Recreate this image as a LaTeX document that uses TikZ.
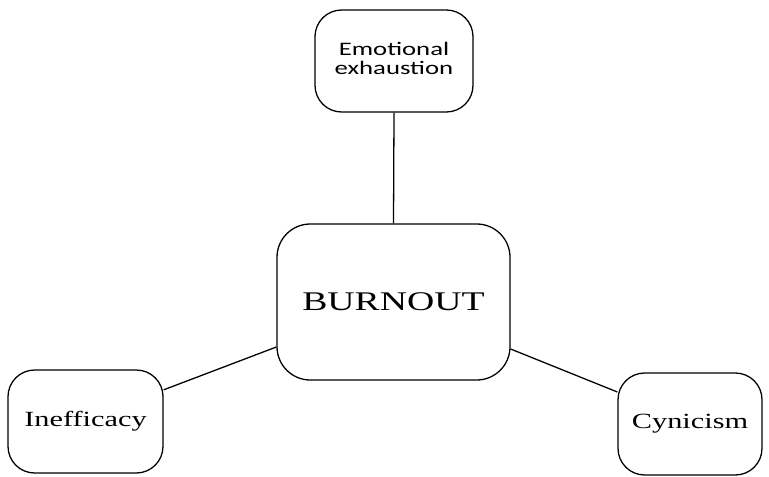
\documentclass[tikz,border=0pt]{standalone}
\usepackage{graphicx}
\usepackage{fontspec}
\setmainfont{Liberation Serif}
\newfontfamily\calibrifont{Carlito}
\usepackage{tikz}
\usetikzlibrary{shapes.geometric}
\tikzstyle{box} = [draw, line width=1.1pt, rounded corners=0.8cm, inner sep=0pt]
\tikzstyle{link} = [line width=1.1pt]
\newcommand{\wide}[1]{\scalebox{1.4}[1]{#1}}

\begin{document}
\begin{tikzpicture}[x=0.03cm,y=-0.03cm]
	\useasboundingbox (0,0) rectangle (769,476);
	% Boxes:
	% the centre box and the three dimensions round it
	\node [box, rounded corners=1cm, minimum width=6.99cm, minimum height=4.68cm,
	       font=\fontsize{23}{26}\selectfont] (burnout) at (393.5,302) {\wide{BURNOUT}};
	\node [box, minimum width=4.74cm, minimum height=3.06cm,
	       font=\calibrifont\fontsize{16.3}{16}\selectfont] (emotional) at (394,61)
	       {\wide{\begin{tabular}{@{}c@{}}Emotional\\exhaustion\end{tabular}}};
	\node [box, minimum width=4.65cm, minimum height=3.09cm,
	       font=\fontsize{18.5}{22}\selectfont] (inefficacy) at (85.5,421.5) {\wide{Inefficacy}};
	\node [box, minimum width=4.32cm, minimum height=3.06cm,
	       font=\fontsize{18.5}{22}\selectfont] (cynicism) at (690,424) {\wide{Cynicism}};

	% Connectors:
	\draw [link] (emotional.south) -- (burnout.north);
	\draw [link] ([yshift=-1.35cm]burnout.west) -- ([yshift=0.95cm]inefficacy.east);
	\draw [link] ([yshift=-1.41cm]burnout.east) -- ([yshift=0.96cm]cynicism.west);
\end{tikzpicture}
\end{document}
